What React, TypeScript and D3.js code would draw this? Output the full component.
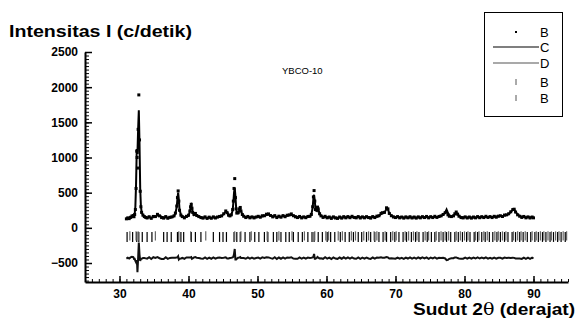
import React, { useEffect, useRef } from "react";
import * as d3 from "d3";

// profile points: [2theta, I observed, I calculated]
const profile: [number, number, number][] = [
  [31.0, 128, 135], [31.2, 142, 136], [31.4, 131, 137], [31.6, 150, 140], [31.8, 168, 150],
  [32.0, 175, 160], [32.1, 158, 170], [32.2, 190, 200], [32.3, 260, 300], [32.4, 560, 620],
  [32.5, 1090, 1120], [32.55, 1000, 1080], [32.6, 850, 1050], [32.7, 1400, 1400], [32.8, 1890, 1670],
  [32.9, 1250, 1200], [33.0, 520, 560], [33.1, 300, 310], [33.2, 220, 230], [33.4, 180, 180],
  [33.6, 160, 160], [33.8, 148, 152], [34.0, 140, 148], [34.3, 158, 146], [34.6, 135, 147],
  [34.9, 162, 150], [35.2, 160, 158], [35.5, 192, 178], [35.8, 170, 172], [36.1, 146, 158],
  [36.4, 138, 150], [36.7, 160, 148], [37.0, 136, 147], [37.3, 150, 148], [37.6, 156, 150],
  [37.9, 170, 165], [38.1, 210, 205], [38.3, 310, 300], [38.4, 430, 420], [38.5, 525, 500],
  [38.6, 380, 400], [38.7, 250, 260], [38.9, 180, 185], [39.1, 160, 158], [39.4, 142, 152],
  [39.7, 164, 155], [40.0, 180, 172], [40.2, 240, 230], [40.3, 300, 290], [40.4, 335, 320],
  [40.5, 280, 290], [40.6, 220, 225], [40.8, 190, 180], [41.0, 205, 190], [41.2, 175, 172],
  [41.5, 160, 158], [41.8, 146, 152], [42.1, 138, 148], [42.4, 156, 146], [42.7, 134, 145],
  [43.0, 152, 145], [43.3, 136, 145], [43.6, 156, 146], [43.9, 140, 147], [44.2, 154, 150],
  [44.5, 162, 155], [44.8, 170, 168], [45.1, 200, 195], [45.4, 240, 230], [45.6, 215, 220],
  [45.8, 180, 185], [46.0, 170, 168], [46.2, 185, 180], [46.4, 260, 250], [46.5, 380, 360],
  [46.6, 560, 500], [46.7, 700, 570], [46.8, 430, 450], [46.9, 270, 290], [47.0, 210, 220],
  [47.2, 215, 210], [47.4, 270, 260], [47.5, 290, 275], [47.6, 240, 240], [47.8, 190, 190],
  [48.0, 165, 165], [48.3, 146, 155], [48.6, 162, 152], [48.9, 142, 150], [49.2, 156, 150],
  [49.5, 141, 150], [49.8, 154, 152], [50.1, 164, 156], [50.4, 151, 158], [50.7, 172, 162],
  [51.0, 172, 170], [51.3, 194, 182], [51.6, 198, 188], [51.9, 175, 175], [52.2, 156, 165],
  [52.5, 174, 162], [52.8, 146, 158], [53.1, 166, 158], [53.4, 151, 160], [53.7, 174, 164],
  [54.0, 158, 165], [54.3, 179, 170], [54.6, 184, 178], [54.9, 198, 186], [55.2, 172, 178],
  [55.5, 156, 165], [55.8, 146, 156], [56.1, 162, 152], [56.4, 141, 150], [56.7, 156, 150],
  [57.0, 144, 152], [57.3, 162, 155], [57.6, 165, 162], [57.8, 190, 185], [58.0, 300, 290],
  [58.1, 440, 420], [58.2, 530, 470], [58.3, 380, 390], [58.4, 260, 270], [58.6, 250, 245],
  [58.7, 295, 280], [58.8, 270, 265], [59.0, 200, 205], [59.2, 170, 172], [59.5, 148, 158],
  [59.8, 164, 152], [60.1, 142, 150], [60.4, 154, 148], [60.7, 134, 146], [61.0, 156, 146],
  [61.3, 140, 146], [61.6, 134, 145], [61.9, 154, 146], [62.2, 138, 147], [62.5, 159, 148],
  [62.8, 142, 150], [63.1, 160, 150], [63.4, 144, 152], [63.7, 164, 154], [64.0, 148, 155],
  [64.3, 142, 152], [64.6, 160, 150], [64.9, 140, 150], [65.2, 156, 150], [65.5, 142, 150],
  [65.8, 159, 152], [66.1, 146, 152], [66.4, 138, 150], [66.7, 160, 152], [67.0, 146, 155],
  [67.3, 166, 158], [67.6, 172, 168], [67.9, 205, 195], [68.1, 215, 210], [68.4, 220, 215],
  [68.7, 285, 270], [68.9, 270, 260], [69.1, 205, 210], [69.4, 172, 175], [69.7, 154, 160],
  [70.0, 146, 155], [70.3, 160, 152], [70.6, 142, 150], [70.9, 154, 150], [71.2, 138, 148],
  [71.5, 156, 148], [71.8, 142, 148], [72.1, 158, 148], [72.4, 140, 148], [72.7, 154, 148],
  [73.0, 138, 147], [73.3, 156, 147], [73.6, 142, 148], [73.9, 159, 150], [74.2, 146, 150],
  [74.5, 162, 152], [74.8, 142, 152], [75.1, 159, 152], [75.4, 146, 150], [75.7, 164, 155],
  [76.0, 148, 155], [76.3, 162, 158], [76.6, 170, 168], [76.9, 190, 185], [77.2, 215, 220],
  [77.4, 230, 260], [77.6, 185, 210], [77.8, 165, 175], [78.1, 160, 162], [78.4, 170, 172],
  [78.6, 200, 190], [78.8, 225, 215], [79.0, 195, 195], [79.2, 165, 170], [79.5, 146, 155],
  [79.8, 141, 150], [80.1, 156, 150], [80.4, 140, 148], [80.7, 154, 148], [81.0, 138, 147],
  [81.3, 154, 147], [81.6, 142, 148], [81.9, 160, 150], [82.2, 144, 150], [82.5, 159, 152],
  [82.8, 146, 152], [83.1, 164, 155], [83.4, 148, 155], [83.7, 160, 155], [84.0, 146, 155],
  [84.3, 164, 158], [84.6, 151, 160], [84.9, 166, 162], [85.2, 172, 168], [85.5, 161, 170],
  [85.8, 182, 175], [86.1, 185, 182], [86.4, 200, 195], [86.7, 228, 225], [87.0, 260, 255],
  [87.2, 265, 262], [87.4, 225, 230], [87.7, 185, 190], [88.0, 165, 170], [88.3, 148, 160],
  [88.6, 162, 155], [88.9, 142, 152], [89.2, 156, 150], [89.5, 140, 150], [89.8, 154, 148],
  [90.0, 142, 148],
];

// Bragg reflection positions, two phases
const reflectionsB1 = [
  31.1, 31.9, 32.5, 32.8, 33.3, 34.0, 34.7, 36.4, 36.9, 37.5, 38.4, 38.5, 38.9, 39.3, 40.4,
  41.0, 41.8, 43.6, 44.5, 45.0, 45.5, 46.6, 47.0, 47.5, 48.2, 48.9, 49.6, 50.2, 51.0, 51.5,
  52.3, 52.8, 53.4, 54.1, 54.6, 55.2, 55.9, 56.5, 57.3, 57.9, 58.2, 58.8, 59.4, 60.1, 60.6,
  61.2, 62.0, 62.7, 63.3, 63.9, 64.6, 65.1, 65.8, 66.4, 67.0, 67.6, 68.2, 68.7, 69.3, 69.9,
  70.5, 71.1, 71.6, 72.3, 72.9, 73.4, 74.0, 74.6, 75.2, 75.7, 76.3, 76.9, 77.4, 78.0, 78.6,
  79.1, 79.7, 80.3, 80.8, 81.4, 81.9, 82.5, 83.0, 83.6, 84.1, 84.7, 85.2, 85.8, 86.3, 86.9,
  87.4, 88.0, 88.5, 89.1, 89.6, 90.2, 90.7, 91.3, 91.8, 92.4, 92.9, 93.5, 94.0, 94.6,
];
const reflectionsB2 = [
  31.5, 32.4, 32.7, 35.2, 38.6, 40.3, 42.5, 46.7, 47.6, 49.1, 51.4, 53.1, 55.0, 56.8, 58.3,
  59.9, 60.3, 61.7, 62.3, 63.6, 64.2, 65.4, 66.1, 66.9, 67.3, 68.5, 69.6, 70.1, 71.4, 71.9,
  72.6, 73.1, 74.3, 74.8, 75.9, 76.6, 77.2, 77.7, 78.8, 79.4, 80.0, 80.5, 81.6, 82.1, 82.8,
  83.3, 84.4, 84.9, 85.5, 86.0, 87.1, 87.7, 88.2, 88.8, 89.8, 90.4, 91.0, 91.5, 92.1, 92.6,
  93.2, 93.7, 94.3, 94.8,
];

const xTicks = [30, 40, 50, 60, 70, 80, 90];
const yTicks = [-500, 0, 500, 1000, 1500, 2000, 2500];
const legendLabels = ["B", "C", "D", "B", "B"];
const DIFF_OFFSET = -430;
const TICK_LEVEL = [-60, -200];

const FONT = "'Liberation Sans', Arial, sans-serif";

const App = () => {
  const svgRef = useRef<SVGSVGElement>(null);

  useEffect(() => {
    const svg = d3.select(svgRef.current);
    svg.selectAll("*").remove();

    const x = d3.scaleLinear().domain([25, 95]).range([85, 568]);
    const y = d3.scaleLinear().domain([-770, 2500]).range([282, 52]);

    // axes
    const yMinor = d3.range(-750, 2501, 50);
    svg.append("g").attr("transform", "translate(85,0)")
      .call(d3.axisLeft(y).tickValues(yMinor).tickSize(-4).tickSizeOuter(0).tickFormat(() => ""))
      .call(g => g.select(".domain").remove())
      .selectAll("line").attr("stroke-width", 1);
    const yAx = svg.append("g").attr("transform", "translate(85,0)")
      .call(d3.axisLeft(y).tickValues(yTicks).tickSize(-7).tickSizeOuter(0).tickPadding(7)
        .tickFormat(d3.format("d")));
    yAx.select(".domain").attr("stroke-width", 2);
    yAx.selectAll("line").attr("stroke-width", 1.5);
    yAx.selectAll("text").attr("font-family", FONT).attr("font-size", 12).attr("font-weight", "bold");

    const xMinor = d3.range(25, 96, 1);
    svg.append("g").attr("transform", "translate(0,282)")
      .call(d3.axisBottom(x).tickValues(xMinor).tickSize(-3).tickSizeOuter(0).tickFormat(() => ""))
      .call(g => g.select(".domain").remove());
    const xAx = svg.append("g").attr("transform", "translate(0,282)")
      .call(d3.axisBottom(x).tickValues(xTicks).tickSize(-6).tickSizeOuter(0).tickPadding(7));
    xAx.select(".domain").attr("stroke-width", 2);
    xAx.selectAll("line").attr("stroke-width", 1.5);
    xAx.selectAll("text").attr("font-family", FONT).attr("font-size", 12).attr("font-weight", "bold");

    // reflection markers
    svg.append("g").selectAll("line").data(reflectionsB1).join("line")
      .attr("x1", d => x(d)).attr("x2", d => x(d))
      .attr("y1", y(TICK_LEVEL[0])).attr("y2", y(TICK_LEVEL[1]))
      .attr("stroke", "#000").attr("stroke-width", 1.2);
    svg.append("g").selectAll("line").data(reflectionsB2).join("line")
      .attr("x1", d => x(d)).attr("x2", d => x(d))
      .attr("y1", y(TICK_LEVEL[0] + 10)).attr("y2", y(TICK_LEVEL[1] + 20))
      .attr("stroke", "#666").attr("stroke-width", 1.2);

    // difference curve
    const diffLine = d3.line<[number, number, number]>()
      .x(d => x(d[0])).y(d => y(d[1] - d[2] + DIFF_OFFSET));
    svg.append("path").datum(profile).attr("d", diffLine)
      .attr("fill", "none").attr("stroke", "#111").attr("stroke-width", 2);

    // calculated
    const calcLine = d3.line<[number, number, number]>()
      .x(d => x(d[0])).y(d => y(d[2]));
    svg.append("path").datum(profile).attr("d", calcLine)
      .attr("fill", "none").attr("stroke", "#000").attr("stroke-width", 2);

    // observed
    svg.append("g").selectAll("rect").data(profile).join("rect")
      .attr("x", d => x(d[0]) - 1.5).attr("y", d => y(d[1]) - 1.5)
      .attr("width", 3).attr("height", 3).attr("fill", "#000");

    // titles
    svg.append("text").attr("x", 9).attr("y", 37).text("Intensitas I (c/detik)")
      .attr("font-family", FONT).attr("font-size", 16).attr("font-weight", "bold")
      .attr("textLength", 183).attr("lengthAdjust", "spacingAndGlyphs");
    const xt = svg.append("text").attr("x", 413).attr("y", 315)
      .attr("font-family", FONT).attr("font-size", 16).attr("font-weight", "bold")
      .attr("textLength", 162).attr("lengthAdjust", "spacingAndGlyphs");
    xt.append("tspan").text("Sudut 2");
    xt.append("tspan").attr("font-family", "'DejaVu Serif', serif").attr("font-weight", "normal").text("θ");
    xt.append("tspan").text(" (derajat)");
    svg.append("text").attr("x", 282).attr("y", 74).text("YBCO-10")
      .attr("font-family", FONT).attr("font-size", 9.5);

    // legend
    const lg = svg.append("g");
    lg.append("rect").attr("x", 484.5).attr("y", 12.5).attr("width", 78).attr("height", 104)
      .attr("fill", "#fff").attr("stroke", "#000").attr("stroke-width", 1);
    const rows = [32, 47, 63, 82, 98];
    lg.selectAll("text").data(legendLabels).join("text")
      .attr("x", 540).attr("y", (d, i) => rows[i] + 5).text(d => d)
      .attr("font-family", FONT).attr("font-size", 13);
    lg.append("rect").attr("x", 515).attr("y", rows[0] - 1).attr("width", 2).attr("height", 2).attr("fill", "#000");
    lg.append("line").attr("x1", 493).attr("x2", 539).attr("y1", rows[1]).attr("y2", rows[1])
      .attr("stroke", "#000").attr("stroke-width", 1.2);
    lg.append("line").attr("x1", 493).attr("x2", 539).attr("y1", rows[2]).attr("y2", rows[2])
      .attr("stroke", "#555").attr("stroke-width", 1.2);
    [rows[3], rows[4]].forEach(r => {
      lg.append("line").attr("x1", 516).attr("x2", 516).attr("y1", r - 3).attr("y2", r + 3)
        .attr("stroke", "#555").attr("stroke-width", 1);
    });
  }, []);

  return (
    <div style={{ position: "absolute", left: 0, top: 0 }}>
      <svg ref={svgRef} width={578} height={320} style={{ display: "block", background: "#fff" }}></svg>
    </div>
  );
};

export default App;
